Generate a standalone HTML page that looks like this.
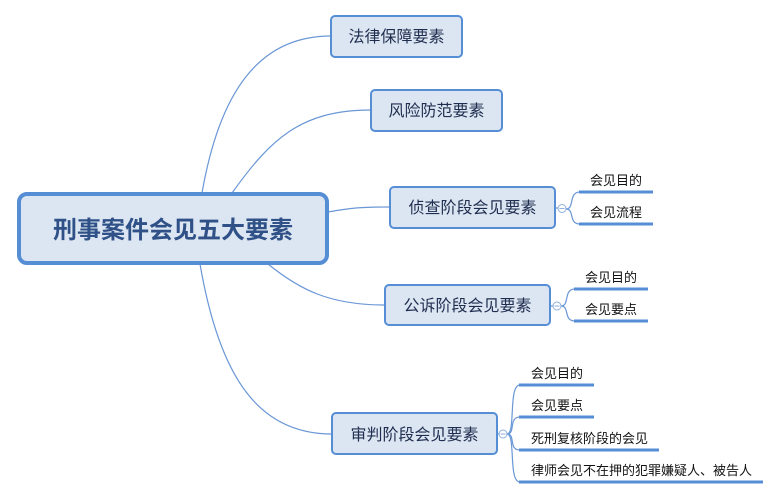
<!DOCTYPE html>
<html><head><meta charset="utf-8"><style>
html,body{margin:0;padding:0;background:#fff;}
svg{display:block;}
text{font-family:"Liberation Sans","Noto Sans CJK SC",sans-serif;}
</style></head><body>
<svg width="781" height="499" viewBox="0 0 781 499" xmlns="http://www.w3.org/2000/svg">
<g fill="none" stroke="#6A97D6" stroke-width="1.2">
<path d="M202,193 C220,90 260,36 331,36"/>
<path d="M232,193 C270,140 300,110 371,110"/>
<path d="M328,212 C350,208 360,207 390,207"/>
<path d="M268,264 C300,290 330,305 385,305"/>
<path d="M200,264 C220,380 260,434 332,434"/>
<path d="M555,208 L558,208"/>
<path d="M566,209 C575,209 568,192 580,192"/>
<path d="M566,209 C575,209 568,224 580,224"/>
<path d="M550,306 L553,306"/>
<path d="M561,306 C570,306 563,289 575,289"/>
<path d="M561,306 C570,306 563,321 575,321"/>
<path d="M497,434 L499,434"/>
<path d="M507,434 C516,434 508,385 520,385"/>
<path d="M507,434 C516,434 508,417 520,417"/>
<path d="M507,434 C516,434 508,450 520,450"/>
<path d="M507,434 C516,434 508,482 520,482"/>
</g>
<g stroke="#558ED5" stroke-width="3" fill="none">
<line x1="579" y1="192" x2="653" y2="192"/>
<line x1="579" y1="224" x2="653" y2="224"/>
<line x1="574" y1="289" x2="648" y2="289"/>
<line x1="574" y1="321" x2="648" y2="321"/>
<line x1="519" y1="385" x2="594" y2="385"/>
<line x1="519" y1="417" x2="594" y2="417"/>
<line x1="519" y1="450" x2="659" y2="450"/>
<line x1="519" y1="482" x2="763" y2="482"/>
</g>
<g fill="#fff" stroke="#8FB0DD" stroke-width="1">
<circle cx="562" cy="208.5" r="4"/><line x1="559.5" y1="208.5" x2="564.5" y2="208.5"/>
<circle cx="557" cy="306" r="4"/><line x1="554.5" y1="306" x2="559.5" y2="306"/>
<circle cx="503" cy="434" r="4"/><line x1="500.5" y1="434" x2="505.5" y2="434"/>
</g>
<rect x="19" y="194" width="308" height="69" rx="8" fill="#DCE6F2" stroke="#558ED5" stroke-width="4"/>
<text x="173" y="238" text-anchor="middle" font-size="24" font-weight="bold" fill="#2F5187">刑事案件会见五大要素</text>
<g fill="#DCE6F2" stroke="#558ED5" stroke-width="2">
<rect x="331" y="16" width="131" height="41" rx="4"/>
<rect x="371" y="90" width="131" height="41" rx="4"/>
<rect x="390" y="187" width="165" height="41" rx="4"/>
<rect x="385" y="285" width="165" height="40" rx="4"/>
<rect x="332" y="413" width="165" height="41" rx="4"/>
</g>
<g font-size="16" fill="#1F2D4F" text-anchor="middle">
<text x="396.5" y="42">法律保障要素</text>
<text x="436.5" y="116">风险防范要素</text>
<text x="472.5" y="213">侦查阶段会见要素</text>
<text x="467.5" y="311">公诉阶段会见要素</text>
<text x="414.5" y="440">审判阶段会见要素</text>
</g>
<g font-size="13" fill="#111">
<text x="590" y="185">会见目的</text>
<text x="590" y="217">会见流程</text>
<text x="585" y="282">会见目的</text>
<text x="585" y="314">会见要点</text>
<text x="531" y="378">会见目的</text>
<text x="531" y="410">会见要点</text>
<text x="531" y="443">死刑复核阶段的会见</text>
<text x="531" y="475">律师会见不在押的犯罪嫌疑人、被告人</text>
</g>
</svg>
</body></html>
